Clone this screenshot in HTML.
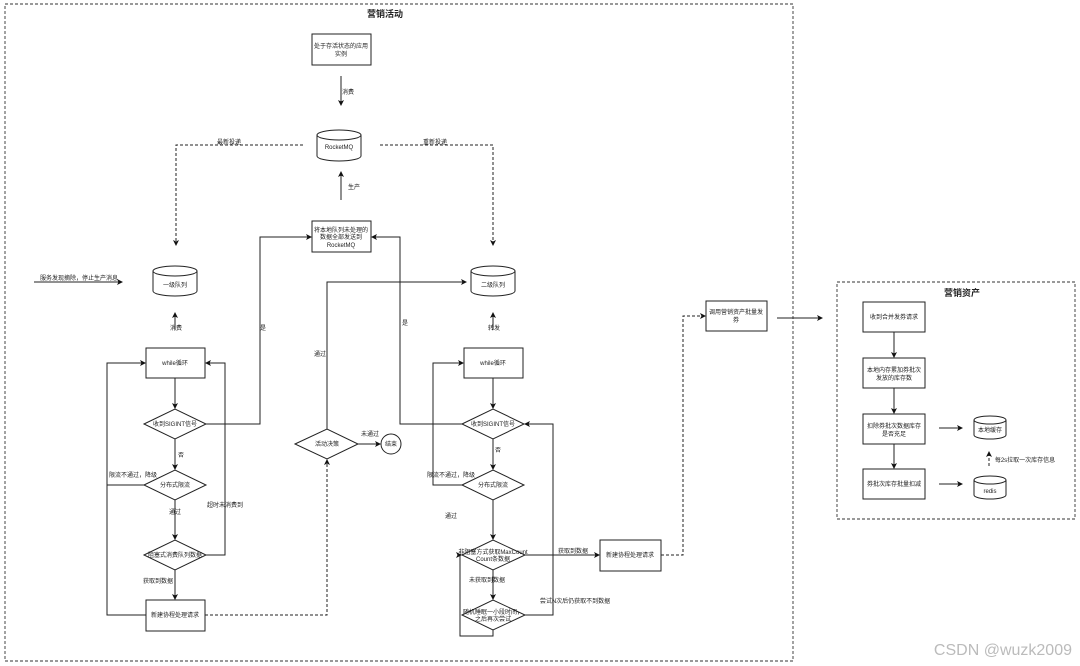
<!DOCTYPE html>
<html><head><meta charset="utf-8"><style>
html,body{margin:0;padding:0;background:#fff;width:1080px;height:666px;overflow:hidden}
svg text{font-family:"Liberation Sans","Noto Sans CJK SC",sans-serif;font-size:6px;fill:#222}
</style></head><body>
<svg width="1080" height="666" viewBox="0 0 1080 666" xmlns="http://www.w3.org/2000/svg">
<defs>
<marker id="a" markerWidth="6" markerHeight="6" refX="5" refY="3" orient="auto" markerUnits="userSpaceOnUse"><path d="M0,0 L6,3 L0,6 L1.5,3z" fill="#111"/></marker>
</defs>
<g fill="none" stroke="#333" stroke-width="0.9">
<rect x="5" y="4" width="788" height="657" stroke-dasharray="3,2"/>
<rect x="837" y="282" width="238" height="237" stroke-dasharray="3,2"/>
</g>
<text x="385" y="17" text-anchor="middle" style="font-size:9px;font-weight:bold">营销活动</text>
<text x="962" y="296" text-anchor="middle" style="font-size:9px;font-weight:bold">营销资产</text>

<g fill="#fff" stroke="#222" stroke-width="1">
<rect x="312" y="34" width="59" height="31"/>
<rect x="312" y="221" width="59" height="31"/>
<rect x="146" y="348" width="59" height="30"/>
<rect x="146" y="600" width="59" height="31"/>
<rect x="464" y="348" width="59" height="30"/>
<rect x="600" y="540" width="61" height="31"/>
<rect x="706" y="301" width="61" height="30"/>
<rect x="863" y="302" width="62" height="30"/>
<rect x="863" y="358" width="62" height="30"/>
<rect x="863" y="414" width="62" height="30"/>
<rect x="863" y="469" width="62" height="30"/>
<polygon points="144,424 175,409 206,424 175,439"/>
<polygon points="144,485 175,470 206,485 175,500"/>
<polygon points="144,555 175,540 206,555 175,570"/>
<polygon points="462,424 493,409 524,424 493,439"/>
<polygon points="462,485 493,470 524,485 493,500"/>
<polygon points="462,555 493,540 525,555 493,570"/>
<polygon points="462,615 493,600 525,615 493,630"/>
<polygon points="295,444 327,429 358,444 327,459"/>
<circle cx="391" cy="444" r="10"/>
</g>
<g fill="#fff" stroke="#222" stroke-width="1">
<path d="M317,135 v21 a22,5 0 0 0 44,0 v-21"/><ellipse cx="339" cy="135" rx="22" ry="5"/>
<path d="M153,271 v20 a22,5 0 0 0 44,0 v-20"/><ellipse cx="175" cy="271" rx="22" ry="5"/>
<path d="M471,271 v20 a22,5 0 0 0 44,0 v-20"/><ellipse cx="493" cy="271" rx="22" ry="5"/>
<path d="M974,420 v15 a16,4 0 0 0 32,0 v-15"/><ellipse cx="990" cy="420" rx="16" ry="4"/>
<path d="M974,480 v15 a16,4 0 0 0 32,0 v-15"/><ellipse cx="990" cy="480" rx="16" ry="4"/>
</g>

<g fill="none" stroke="#222" stroke-width="1" marker-end="url(#a)">
<path d="M341,76 V105"/>
<path d="M341,200 V172"/>
<path d="M34,282 H122"/>
<path d="M175,330 V313"/>
<path d="M493,330 V313"/>
<path d="M206,424 H260 V237 H311"/>
<path d="M462,424 H400 V237 H372"/>
<path d="M327,429 V282 H466"/>
<path d="M175,378 V408"/>
<path d="M175,439 V469"/>
<path d="M175,500 V539"/>
<path d="M175,570 V599"/>
<path d="M146,615 H107 V363 H145"/>
<path d="M206,555 H225 V363 H206"/>
<path d="M358,444 H380"/>
<path d="M493,378 V408"/>
<path d="M493,439 V469"/>
<path d="M493,500 V539"/>
<path d="M493,570 V599"/>
<path d="M462,485 H433 V363 H463"/>
<path d="M493,630 V636 H460 V555 H461"/>
<path d="M525,615 H553 V424 H525"/>
<path d="M525,555 H599"/>
<path d="M777,318 H822"/>
<path d="M894,332 V357"/>
<path d="M894,388 V413"/>
<path d="M894,444 V468"/>
<path d="M939,428 H962"/>
<path d="M939,484 H962"/>
</g>
<path d="M144,485 H107" fill="none" stroke="#222" stroke-width="1"/>
<g fill="none" stroke="#222" stroke-width="1" stroke-dasharray="3,2" marker-end="url(#a)">
<path d="M303,145 H176 V245"/>
<path d="M380,145 H493 V245"/>
<path d="M205,615 H327 V460"/>
<path d="M661,555 H683 V316 H705"/>
<path d="M989,466 V452"/>
</g>

<g text-anchor="middle">
<text x="341" y="48">处于存活状态的应用</text><text x="341" y="56">实例</text>
<text x="348" y="94">消费</text>
<text x="339" y="149">RocketMQ</text>
<text x="354" y="189">生产</text>
<text x="229" y="144">最新投递</text>
<text x="435" y="144">重新投递</text>
<text x="341" y="232">将本地队列未处理的</text><text x="341" y="239">数据全部发送到</text><text x="341" y="247">RocketMQ</text>
<text x="79" y="280">服务发现摘除，停止生产消息</text>
<text x="175" y="287">一级队列</text>
<text x="493" y="287">二级队列</text>
<text x="176" y="330">消费</text>
<text x="494" y="330">转发</text>
<text x="263" y="330">是</text>
<text x="405" y="325">是</text>
<text x="320" y="356">通过</text>
<text x="175" y="365">while循环</text>
<text x="493" y="365">while循环</text>
<text x="175" y="426">收到SIGINT信号</text>
<text x="493" y="426">收到SIGINT信号</text>
<text x="181" y="457">否</text>
<text x="498" y="452">否</text>
<text x="175" y="487">分布式限流</text>
<text x="493" y="487">分布式限流</text>
<text x="133" y="477">限流不通过，降级</text>
<text x="451" y="477">限流不通过，降级</text>
<text x="175" y="514">通过</text>
<text x="451" y="518">通过</text>
<text x="225" y="507">超时未消费到</text>
<text x="175" y="557">阻塞式消费队列数据</text>
<text x="158" y="583">获取到数据</text>
<text x="175" y="617">新建协程处理请求</text>
<text x="327" y="446">活动决策</text>
<text x="370" y="436">未通过</text>
<text x="391" y="446">结束</text>
<text x="493" y="554">非阻塞方式获取MaxCount</text><text x="493" y="561">Count条数据</text>
<text x="487" y="582">未获取到数据</text>
<text x="493" y="614">随机睡眠一小段时间，</text><text x="493" y="621">之后再次尝试</text>
<text x="575" y="603">尝试N次后仍获取不到数据</text>
<text x="573" y="553">获取到数据</text>
<text x="630" y="557">新建协程处理请求</text>
<text x="736" y="314">调用营销资产批量发</text><text x="736" y="322">券</text>
<text x="894" y="319">收到合并发券请求</text>
<text x="894" y="372">本地内存累加券批次</text><text x="894" y="380">发放的库存数</text>
<text x="894" y="428">扣除券批次数据库存</text><text x="894" y="436">是否充足</text>
<text x="894" y="486">券批次库存批量扣减</text>
<text x="990" y="432">本地缓存</text>
<text x="990" y="493">redis</text>
<text x="1025" y="462">每2s拉取一次库存信息</text>
</g>
<text x="1072" y="655" text-anchor="end" style="font-size:16px;fill:#bbb">CSDN @wuzk2009</text>
</svg>
</body></html>
